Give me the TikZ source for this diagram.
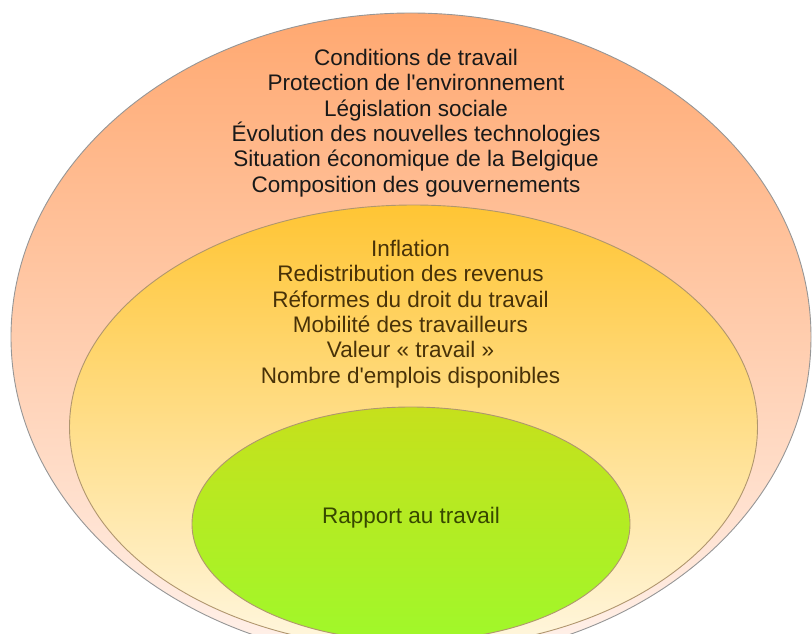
\documentclass[tikz,border=0pt]{standalone}
\usepackage{fontspec}
\setmainfont{Liberation Sans}
\definecolor{peachtop}{RGB}{255,168,112}
\definecolor{peachbot}{RGB}{255,242,236}
\definecolor{ambertop}{RGB}{255,197,52}
\definecolor{amberbot}{RGB}{255,247,224}
\definecolor{limetop}{RGB}{198,224,28}
\definecolor{limebot}{RGB}{160,248,42}
\definecolor{rimgray}{RGB}{150,150,150}
\definecolor{rimtan}{RGB}{176,150,110}
\definecolor{txtbrown}{RGB}{72,50,8}
\definecolor{txtolive}{RGB}{55,72,0}

\begin{document}
\begin{tikzpicture}[x=1pt,y=1pt]

	\tikzset{couche/.style={draw=#1,line width=0.9pt},
		liste/.style={align=center,font=\fontsize{22.5}{25.4}\selectfont}}
	\useasboundingbox (0,0) rectangle (812,-634);
	\clip (0,0) rectangle (812,-634);
	
	% les trois couches
	\draw[couche=rimgray,top color=peachtop,bottom color=peachbot] (411,-337) ellipse (400 and 324);
	\draw[couche=rimtan,top color=ambertop,bottom color=amberbot] (413.5,-427) ellipse (344 and 222);
	\draw[couche=rimtan,top color=limetop,bottom color=limebot] (411,-524) ellipse (219 and 117);
	
	\node[liste,text=black!90] (contexte) at (416,-123) {Conditions de travail\\
		Protection de l\textquotesingle environnement\\
		Législation sociale\\
		Évolution des nouvelles technologies\\
		Situation économique de la Belgique\\
		Composition des gouvernements};
	\node[liste,text=txtbrown] (facteurs) at (410.5,-314) {Inflation\\
		Redistribution des revenus\\
		Réformes du droit du travail\\
		Mobilité des travailleurs\\
		Valeur « travail »\\
		Nombre d\textquotesingle emplois disponibles};
	\node[liste,text=txtolive] (rapport) at (411,-518) {Rapport au travail};
\end{tikzpicture}
\end{document}
